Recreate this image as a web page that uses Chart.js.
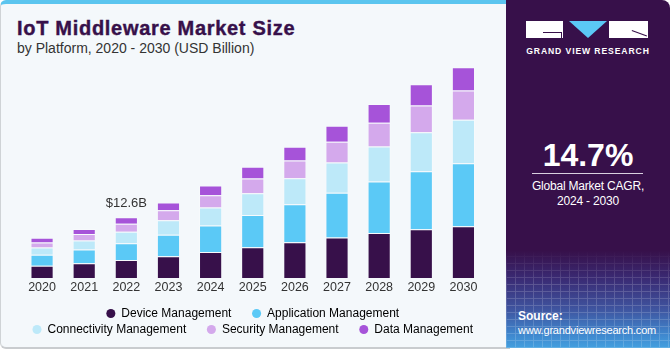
<!DOCTYPE html>
<html><head><meta charset="utf-8">
<script src="https://cdn.jsdelivr.net/npm/chart.js@4.4.1/dist/chart.umd.min.js"></script>
<style>
html,body{margin:0;padding:0;background:#fff;width:670px;height:350px;overflow:hidden;font-family:"Liberation Sans",Arial,sans-serif;}
#left{position:absolute;left:0;top:0;width:509px;height:343px;background:#F4F8FB;border-top:4px solid #5BC5EF;border-left:1px solid #cfd3d6;border-bottom:2px solid #c9cccf;border-radius:6px 0 0 6px;}
#title{position:absolute;left:17px;top:16px;line-height:24px;font-size:20px;font-weight:bold;color:#37104A;letter-spacing:0.7px;-webkit-text-stroke:0.4px #37104A;white-space:nowrap;}
#subtitle{position:absolute;left:17px;top:39.5px;line-height:16px;font-size:14px;color:#333;white-space:nowrap;}
#chartbox{position:absolute;left:0;top:0;width:495px;height:350px;}
#right{position:absolute;left:506px;top:0;width:164px;height:348px;border-radius:0 8px 0 0;overflow:hidden;
background:linear-gradient(to bottom,#37104A 0%,#37104A 72%,#3a2a73 80%,#3f55a0 89%,#3f86cd 96%,#44a0df 100%);}
#mesh{position:absolute;left:0;top:250px;width:164px;height:98px;opacity:0.18;
background:repeating-linear-gradient(90deg,rgba(255,255,255,0.9) 0 1px,transparent 1px 9px),repeating-linear-gradient(0deg,rgba(255,255,255,0.9) 0 1px,transparent 1px 7px);
-webkit-mask-image:linear-gradient(to bottom,transparent 0%,#000 35%,#000 100%);}
.w{position:absolute;color:#fff;white-space:nowrap;text-align:center;}
</style></head>
<body>
<div id="left"></div>
<div id="title">IoT Middleware Market Size</div>
<div id="subtitle">by Platform, 2020 - 2030 (USD Billion)</div>
<div id="chartbox"><canvas id="c" width="495" height="350"></canvas></div>
<div id="right">
  <div id="mesh"></div>
  <div style="position:absolute;left:20px;top:21px;width:37px;height:17px;background:#fff;"></div>
  <div style="position:absolute;left:37px;top:32px;width:19px;height:1px;background:#37104A;"></div>
  <div style="position:absolute;left:55px;top:32px;width:1px;height:6px;background:#37104A;"></div>
  <div style="position:absolute;left:63px;top:21px;width:0;height:0;border-left:19px solid transparent;border-right:19px solid transparent;border-top:17px solid #5BC8F5;"></div>
  <div style="position:absolute;left:103px;top:21px;width:39px;height:17px;background:#fff;"></div>
  <div style="position:absolute;left:126px;top:30px;width:16px;height:1px;background:#37104A;transform-origin:0 0;transform:rotate(20deg);"></div>
  <div class="w" style="left:0;width:164px;top:45px;line-height:13px;font-size:8.6px;font-weight:bold;letter-spacing:0.9px;">GRAND VIEW RESEARCH</div>
  <div class="w" style="left:0;width:164px;top:137px;line-height:36px;font-size:32px;font-weight:bold;">14.7%</div>
  <div style="position:absolute;left:26px;top:173px;width:111px;height:1px;background:#d9d0df;"></div>
  <div class="w" style="left:0;width:164px;top:178px;line-height:16px;font-size:12px;letter-spacing:-0.2px;">Global Market CAGR,</div>
  <div class="w" style="left:0;width:164px;top:193px;line-height:16px;font-size:12px;letter-spacing:-0.2px;">2024 - 2030</div>
  <div class="w" style="left:12px;top:309px;line-height:14px;font-size:12px;font-weight:bold;text-align:left;">Source:</div>
  <div class="w" style="left:12px;top:322.5px;line-height:14px;font-size:11px;letter-spacing:-0.2px;text-align:left;">www.grandviewresearch.com</div>
</div>
<script>
const years = ['2020','2021','2022','2023','2024','2025','2026','2027','2028','2029','2030'];
const deviceManagement       = [2.56, 3.04, 3.74, 4.49, 5.41, 6.36, 7.40, 8.38, 9.36, 10.10, 10.73];
const applicationManagement  = [2.29, 2.85, 3.45, 4.51, 5.47, 6.74, 7.90, 9.29, 10.67, 12.06, 13.10];
const connectivityManagement = [1.46, 1.87, 2.43, 2.97, 3.74, 4.49, 5.41, 6.30, 7.28, 8.11, 9.02];
const securityManagement     = [1.04, 1.39, 1.66, 2.08, 2.56, 3.06, 3.68, 4.30, 4.93, 5.55, 6.09];
const dataManagement         = [0.98, 1.04, 1.31, 1.60, 2.02, 2.43, 2.85, 3.33, 3.87, 4.37, 4.78];
const seriesNames = ['Device Management','Application Management','Connectivity Management','Security Management','Data Management'];
const seriesColors = ['#37104A','#5BC9F6','#BDE9F9','#D4A9EC','#A653D9'];
const annotationIndex = 2;
const annotationText = '$12.6B';

const legendGap = '     ';
const annotate = {
  id: 'annotate',
  afterDatasetsDraw(chart) {
    const metas = chart.getSortedVisibleDatasetMetas();
    let top = Infinity, x = 0;
    metas.forEach(m => { const el = m.data[annotationIndex]; if (el.y < top) { top = el.y; x = el.x; } });
    const ctx = chart.ctx;
    ctx.save();
    ctx.font = '13px "Liberation Sans", Arial, sans-serif';
    ctx.fillStyle = '#333';
    ctx.textAlign = 'center';
    ctx.textBaseline = 'middle';
    ctx.fillText(annotationText, x, top - 14);
    ctx.restore();
  }
};

new Chart(document.getElementById('c'), {
  type: 'bar',
  data: {
    labels: years,
    datasets: [deviceManagement, applicationManagement, connectivityManagement, securityManagement, dataManagement].map((d, i) => ({
      label: seriesNames[i],
      data: d,
      backgroundColor: seriesColors[i],
      borderColor: 'rgba(255,255,255,0.28)',
      borderWidth: 1,
      borderSkipped: 'bottom',
      categoryPercentage: 1,
      barPercentage: 0.55
    }))
  },
  options: {
    responsive: false,
    animation: false,
    devicePixelRatio: 1,
    layout: { padding: { left: 21, right: 10.5, top: 66, bottom: 4.5 } },
    scales: {
      x: {
        stacked: true,
        grid: { display: false },
        border: { display: false },
        ticks: { color: '#333', font: { size: 12.5, family: '"Liberation Sans", Arial, sans-serif' }, padding: -6 },
        afterFit: (s) => { s.height = 25.5; }
      },
      y: { stacked: true, display: false, min: 0, max: 44 }
    },
    plugins: {
      tooltip: { enabled: false },
      legend: {
        position: 'bottom',
        labels: {
          usePointStyle: true,
          pointStyle: 'circle',
          boxWidth: 9,
          boxHeight: 6.4,
          padding: 4,
          color: '#333',
          font: { size: 12, family: '"Liberation Sans", Arial, sans-serif' },
          generateLabels: (chart) => chart.data.datasets.map((ds, i) => ({
            text: (i === 1 || i === 4) ? ds.label : ds.label + legendGap,
            fillStyle: ds.backgroundColor,
            strokeStyle: ds.backgroundColor,
            lineWidth: 0,
            pointStyle: 'circle',
            hidden: false,
            datasetIndex: i
          }))
        }
      }
    }
  },
  plugins: [annotate]
});
</script>
</body></html>
